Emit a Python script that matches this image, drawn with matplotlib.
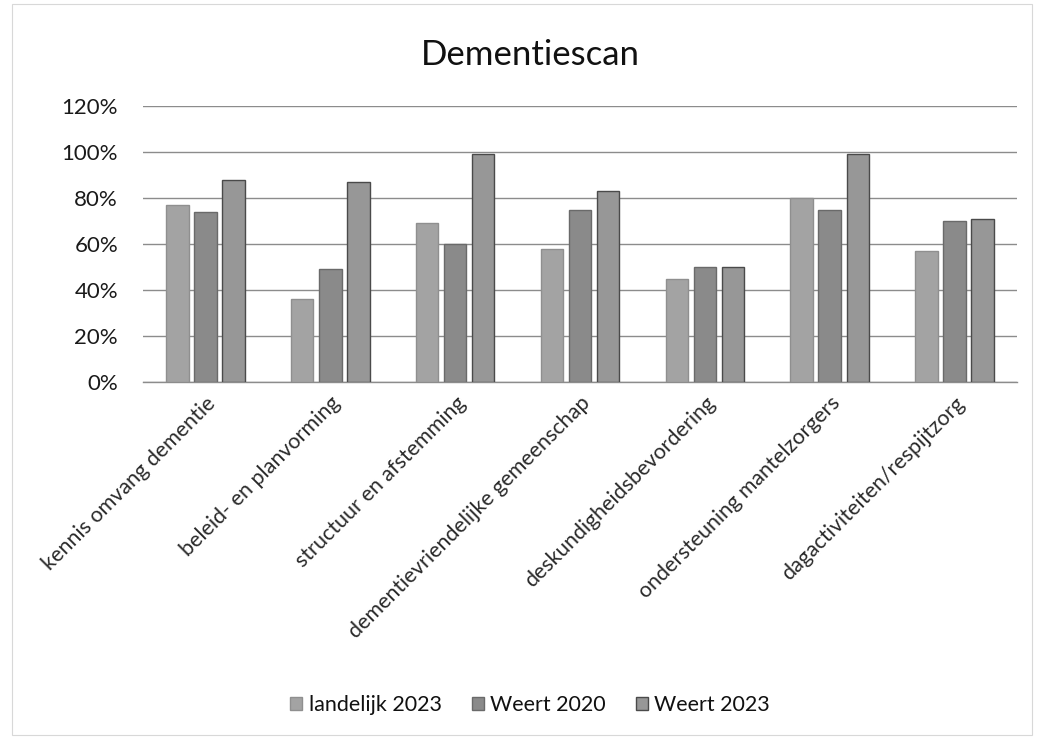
import matplotlib
matplotlib.use("Agg")
import matplotlib.pyplot as plt
import numpy as np
from matplotlib.patches import Rectangle
from matplotlib.ticker import FuncFormatter, MultipleLocator

categories = ["kennis omvang dementie", "beleid- en planvorming", "structuur en afstemming",
              "dementievriendelijke gemeenschap", "deskundigheidsbevordering",
              "ondersteuning mantelzorgers", "dagactiviteiten/respijtzorg"]
series_names = ["landelijk 2023", "Weert 2020", "Weert 2023"]
landelijk_2023 = [77, 36, 69, 58, 45, 80, 57]
weert_2020 = [74, 49, 60, 75, 50, 75, 70]
weert_2023 = [88, 87, 99, 83, 50, 99, 71]

plt.rcParams['font.family'] = ['Lato', 'DejaVu Sans']

W, H = 1037, 739
fig = plt.figure(figsize=(W / 100, H / 100), dpi=100)
fig.patch.set_facecolor('white')

# faint outer frame of the scanned chart
fig.patches.append(Rectangle((12 / W, 4 / H), 1020 / W, 731 / H, transform=fig.transFigure,
                             fill=False, edgecolor='#d8d8d8', linewidth=0.8))

ax = fig.add_axes([143 / W, 1 - 382 / H, (1017 - 143) / W, (382 - 106) / H])

x = np.arange(len(categories))
bw = 0.18
step = 0.225
colors = ['#a3a3a3', '#8a8a8a', '#979797']
edges = ['#8f8f8f', '#6a6a6a', '#4a4a4a']
data = [landelijk_2023, weert_2020, weert_2023]
for i, (vals, c, e, name) in enumerate(zip(data, colors, edges, series_names)):
    ax.bar(x + (i - 1) * step, vals, width=bw, color=c, edgecolor=e, linewidth=1.0,
           label=name, zorder=3)

ax.set_ylim(0, 120)
ax.set_xlim(-0.5, len(categories) - 0.5)
ax.yaxis.set_major_locator(MultipleLocator(20))
ax.yaxis.set_major_formatter(FuncFormatter(lambda v, p: f"{int(v)}%"))
ax.grid(axis='y', color='#8c8c8c', linewidth=1.0, zorder=0)
for s in ['top', 'right', 'left']:
    ax.spines[s].set_visible(False)
ax.spines['bottom'].set_color('#8c8c8c')
ax.spines['bottom'].set_linewidth(1.0)
ax.tick_params(axis='y', length=0, pad=18, labelsize=16, labelcolor='#1a1a1a')
ax.tick_params(axis='x', length=0, pad=8, labelsize=15.5, labelcolor='#2a2a2a')
ax.set_xticks(x)
ax.set_xticklabels(categories, rotation=45, ha='right', rotation_mode='anchor')

fig.text(530 / W, 1 - 55 / H, "Dementiescan", ha='center', va='center', fontsize=25,
         color='#111111')

leg = fig.legend(loc='center', bbox_to_anchor=(530 / W, 1 - 705 / H), ncol=3, frameon=False,
                 fontsize=15.5, handlelength=0.55, handleheight=0.55, handletextpad=0.3,
                 columnspacing=1.4)
for t in leg.get_texts():
    t.set_color('#111111')

fig.savefig("out.png", dpi=100, facecolor='white')
